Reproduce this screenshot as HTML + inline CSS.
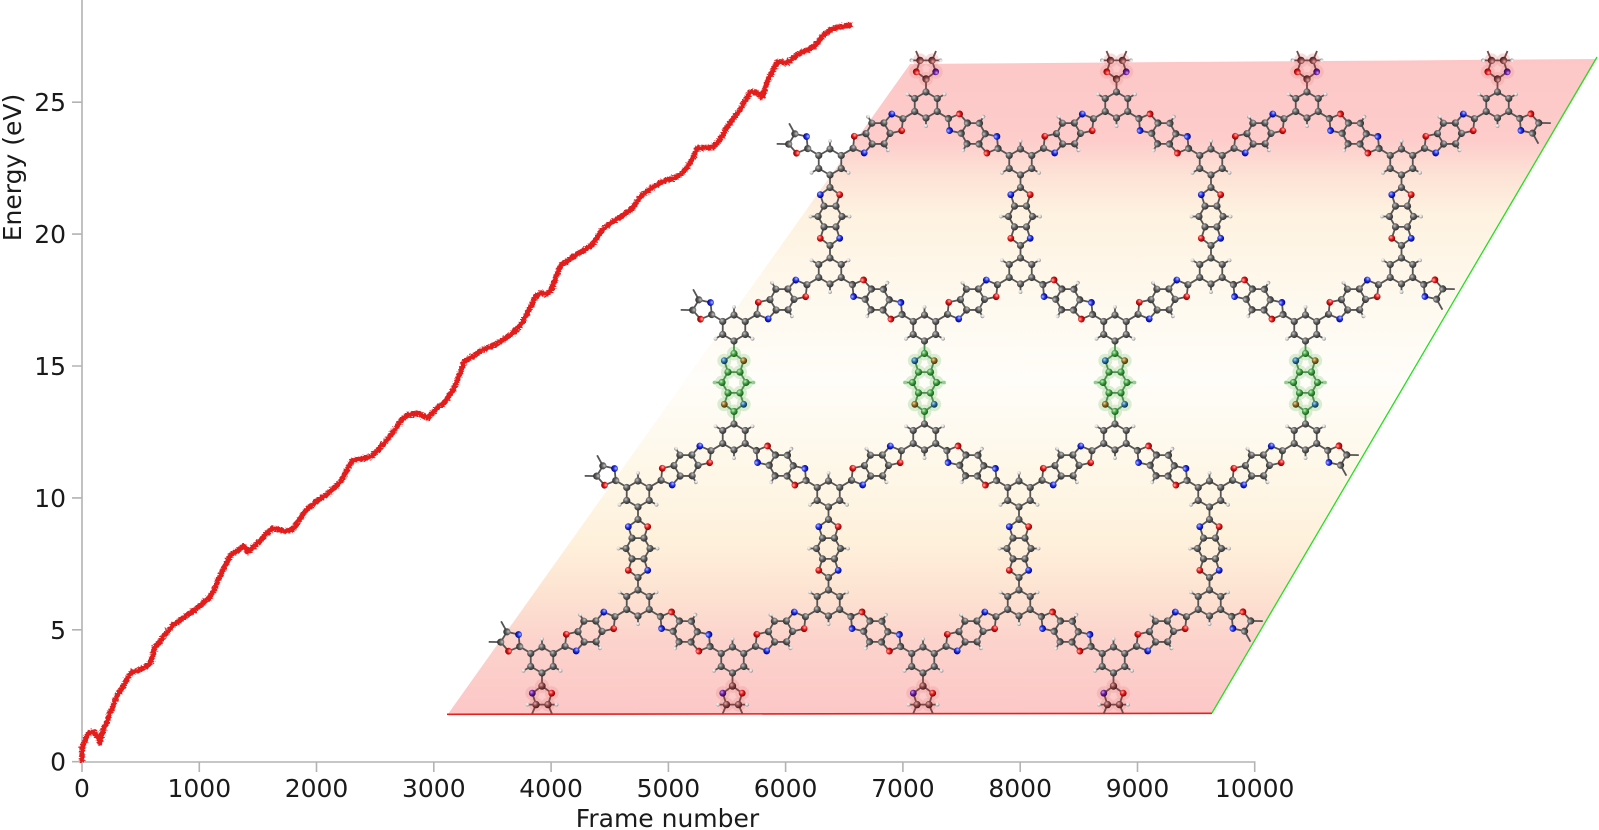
<!DOCTYPE html>
<html><head><meta charset="utf-8"><style>
html,body{margin:0;padding:0;background:#fff;}
svg{display:block;}
.b{stroke:#555;stroke-width:1.8;fill:none;stroke-linejoin:round;}
.bg{stroke:#4f8f4f;stroke-width:1.8;fill:none;}
.br{stroke:#7a4848;stroke-width:1.8;fill:none;}
text{font-family:"DejaVu Sans","Liberation Sans",sans-serif;fill:#1a1a1a;}
</style></head><body>
<svg width="1599" height="830" viewBox="0 0 1599 830" xmlns="http://www.w3.org/2000/svg" xmlns:xlink="http://www.w3.org/1999/xlink">
<defs>
<filter id="jit" filterUnits="userSpaceOnUse" x="60" y="0" width="830" height="790">
<feTurbulence type="fractalNoise" baseFrequency="0.45 0.8" numOctaves="2" seed="7" result="t"/>
<feDisplacementMap in="SourceGraphic" in2="t" scale="5" xChannelSelector="R" yChannelSelector="G"/>
</filter>
<linearGradient id="bgG" gradientUnits="userSpaceOnUse" x1="0" y1="59" x2="0" y2="714">
<stop offset="0" stop-color="#fdc7c7"/>
<stop offset="0.124" stop-color="#fdcccb"/>
<stop offset="0.177" stop-color="#fde2d6"/>
<stop offset="0.238" stop-color="#fef2e0"/>
<stop offset="0.368" stop-color="#fef9ee"/>
<stop offset="0.49" stop-color="#fffdf9"/>
<stop offset="0.612" stop-color="#fef8ea"/>
<stop offset="0.734" stop-color="#fef1dc"/>
<stop offset="0.81" stop-color="#fde4d2"/>
<stop offset="0.887" stop-color="#fcd3cc"/>
<stop offset="1" stop-color="#fcc7c7"/>
</linearGradient>
<radialGradient id="gC" cx="0.38" cy="0.35" r="0.65"><stop offset="0" stop-color="#c4c4c4"/><stop offset="0.5" stop-color="#606060"/><stop offset="1" stop-color="#303030"/></radialGradient>
<radialGradient id="gO" cx="0.38" cy="0.35" r="0.65"><stop offset="0" stop-color="#ffb4b4"/><stop offset="0.5" stop-color="#e21a1a"/><stop offset="1" stop-color="#8a0000"/></radialGradient>
<radialGradient id="gN" cx="0.38" cy="0.35" r="0.65"><stop offset="0" stop-color="#b4bcff"/><stop offset="0.5" stop-color="#2233e0"/><stop offset="1" stop-color="#000088"/></radialGradient>
<radialGradient id="gH" cx="0.38" cy="0.35" r="0.65"><stop offset="0" stop-color="#ffffff"/><stop offset="0.6" stop-color="#d0d0d0"/><stop offset="1" stop-color="#888"/></radialGradient>
<radialGradient id="gG" cx="0.38" cy="0.35" r="0.65"><stop offset="0" stop-color="#c8f0c8"/><stop offset="0.5" stop-color="#3c9e3c"/><stop offset="1" stop-color="#1a5a1a"/></radialGradient>
<radialGradient id="gGN" cx="0.38" cy="0.35" r="0.65"><stop offset="0" stop-color="#b0d8f0"/><stop offset="0.5" stop-color="#2a70a0"/><stop offset="1" stop-color="#0a3050"/></radialGradient>
<radialGradient id="gGO" cx="0.38" cy="0.35" r="0.65"><stop offset="0" stop-color="#f0d8a0"/><stop offset="0.5" stop-color="#8a6a20"/><stop offset="1" stop-color="#4a3008"/></radialGradient>
<radialGradient id="gR" cx="0.38" cy="0.35" r="0.65"><stop offset="0" stop-color="#e0b0b0"/><stop offset="0.5" stop-color="#8a4444"/><stop offset="1" stop-color="#4a1a1a"/></radialGradient>
<radialGradient id="gP" cx="0.38" cy="0.35" r="0.65"><stop offset="0" stop-color="#d0a0f0"/><stop offset="0.5" stop-color="#6a1a9a"/><stop offset="1" stop-color="#300a50"/></radialGradient>

<circle id="C" r="3.6" fill="url(#gC)"/>
<circle id="O" r="3.4" fill="url(#gO)"/>
<circle id="N" r="3.4" fill="url(#gN)"/>
<circle id="H" r="1.9" fill="url(#gH)"/>
<circle id="G" r="3.6" fill="url(#gG)"/>
<circle id="GN" r="3.4" fill="url(#gGN)"/>
<circle id="GO" r="3.4" fill="url(#gGO)"/>
<circle id="GH" r="1.9" fill="#8fd08f"/>
<circle id="R" r="3.7" fill="url(#gR)"/>
<circle id="RN" r="3.4" fill="url(#gP)"/>
<circle id="hR" r="7" fill="#e89a9a" opacity="0.35"/>
<circle id="hG" r="7" fill="#9fd89a" opacity="0.4"/>

<g id="lk">
<path class="b" d="M0,-42V-29M0,-29L-9.7,-21.8L-6,-10.4L6,-10.4L9.7,-21.8ZM-6,-10.4L-12,0L-6,10.4L6,10.4L12,0L6,-10.4M-6,10.4L-9.7,21.8L0,29L9.7,21.8L6,10.4M0,29V42M-12,0H-19M12,0H19"/>
<use href="#C" y="-29"/><use href="#N" x="-9.7" y="-21.8"/><use href="#O" x="9.7" y="-21.8"/>
<use href="#C" x="-6" y="-10.4"/><use href="#C" x="6" y="-10.4"/><use href="#C" x="-12"/><use href="#C" x="12"/>
<use href="#C" x="-6" y="10.4"/><use href="#C" x="6" y="10.4"/>
<use href="#O" x="-9.7" y="21.8"/><use href="#N" x="9.7" y="21.8"/><use href="#C" y="29"/>
<use href="#H" x="-19.5"/><use href="#H" x="19.5"/>
</g>

<g id="lkG">
<use href="#hG" y="-29"/><use href="#hG" x="-9.7" y="-21.8"/><use href="#hG" x="9.7" y="-21.8"/>
<use href="#hG" x="-6" y="-10.4"/><use href="#hG" x="6" y="-10.4"/><use href="#hG" x="-12"/><use href="#hG" x="12"/>
<use href="#hG" x="-6" y="10.4"/><use href="#hG" x="6" y="10.4"/>
<use href="#hG" x="-9.7" y="21.8"/><use href="#hG" x="9.7" y="21.8"/><use href="#hG" y="29"/>
<path class="bg" d="M0,-42V-29M0,-29L-9.7,-21.8L-6,-10.4L6,-10.4L9.7,-21.8ZM-6,-10.4L-12,0L-6,10.4L6,10.4L12,0L6,-10.4M-6,10.4L-9.7,21.8L0,29L9.7,21.8L6,10.4M0,29V42M-12,0H-19M12,0H19"/>
<use href="#G" y="-29"/><use href="#GN" x="-9.7" y="-21.8"/><use href="#GO" x="9.7" y="-21.8"/>
<use href="#G" x="-6" y="-10.4"/><use href="#G" x="6" y="-10.4"/><use href="#G" x="-12"/><use href="#G" x="12"/>
<use href="#G" x="-6" y="10.4"/><use href="#G" x="6" y="10.4"/>
<use href="#GO" x="-9.7" y="21.8"/><use href="#GN" x="9.7" y="21.8"/><use href="#G" y="29"/>
<use href="#GH" x="-19.5"/><use href="#GH" x="19.5"/>
</g>

<g id="nU">
<path class="b" d="M0,-13L11.26,-6.5L11.26,6.5L0,13L-11.26,6.5L-11.26,-6.5ZM11.26,-6.5L18,-10.4M0,13V20M-11.26,-6.5L-18,-10.4"/>
<use href="#C" y="-13"/><use href="#C" x="11.26" y="-6.5"/><use href="#C" x="11.26" y="6.5"/><use href="#C" y="13"/><use href="#C" x="-11.26" y="6.5"/><use href="#C" x="-11.26" y="-6.5"/>
<use href="#H" x="18.5" y="-10.7"/><use href="#H" y="21"/><use href="#H" x="-18.5" y="-10.7"/>
</g>
<g id="nD">
<path class="b" d="M0,-13L11.26,-6.5L11.26,6.5L0,13L-11.26,6.5L-11.26,-6.5ZM11.26,6.5L18,10.4M0,-13V-20M-11.26,6.5L-18,10.4"/>
<use href="#C" y="-13"/><use href="#C" x="11.26" y="-6.5"/><use href="#C" x="11.26" y="6.5"/><use href="#C" y="13"/><use href="#C" x="-11.26" y="6.5"/><use href="#C" x="-11.26" y="-6.5"/>
<use href="#H" x="18.5" y="10.7"/><use href="#H" y="-21"/><use href="#H" x="-18.5" y="10.7"/>
</g>

<g id="hk">
<path class="b" d="M0,13V26M0,26L-9.7,33.2L-6,44.6L6,44.6L9.7,33.2ZM-6,44.6L-12,55M6,44.6L12,55"/>
<use href="#C" y="26"/><use href="#N" x="-9.7" y="33.2"/><use href="#O" x="9.7" y="33.2"/><use href="#C" x="-6" y="44.6"/><use href="#C" x="6" y="44.6"/>
</g>

<g id="hkR">
<use href="#hR" y="26"/><use href="#hR" x="-9.7" y="33.2"/><use href="#hR" x="9.7" y="33.2"/><use href="#hR" x="-6" y="44.6"/><use href="#hR" x="6" y="44.6"/>
<path class="br" d="M0,13V26M0,26L-9.7,33.2L-6,44.6L6,44.6L9.7,33.2ZM-6,44.6L-10,54M6,44.6L10,54M-6,44.6L-14,44.6M6,44.6L14,44.6"/>
<use href="#R" y="26"/><use href="#RN" x="-9.7" y="33.2"/><use href="#O" x="9.7" y="33.2"/><use href="#R" x="-6" y="44.6"/><use href="#R" x="6" y="44.6"/>
<use href="#H" x="-14.5" y="44.6"/><use href="#H" x="14.5" y="44.6"/>
</g>
</defs>

<!-- parallelogram background -->
<polygon points="448,714 910,64 1597,59 1212,713" fill="url(#bgG)"/>
<line x1="447" y1="714.3" x2="1212" y2="713.3" stroke="#e82020" stroke-width="1.6"/>
<line x1="1212" y1="713" x2="1597" y2="57" stroke="#22e022" stroke-width="1.3"/>

<!-- diagonal linkers -->
<g>
<use href="#lk" transform="translate(878,133.5) rotate(59.3)"/>
<use href="#lk" transform="translate(1068.5,133.5) rotate(59.3)"/>
<use href="#lk" transform="translate(1259,133.5) rotate(59.3)"/>
<use href="#lk" transform="translate(1449.5,133.5) rotate(59.3)"/>
<use href="#lk" transform="translate(973.25,133.5) rotate(-58.9)"/>
<use href="#lk" transform="translate(1163.75,133.5) rotate(-58.9)"/>
<use href="#lk" transform="translate(1354.25,133.5) rotate(-58.9)"/>

<use href="#lk" transform="translate(782,299.5) rotate(59.3)"/>
<use href="#lk" transform="translate(972.5,299.5) rotate(59.3)"/>
<use href="#lk" transform="translate(1163,299.5) rotate(59.3)"/>
<use href="#lk" transform="translate(1353.5,299.5) rotate(59.3)"/>
<use href="#lk" transform="translate(877.25,299.5) rotate(-58.9)"/>
<use href="#lk" transform="translate(1067.75,299.5) rotate(-58.9)"/>
<use href="#lk" transform="translate(1258.25,299.5) rotate(-58.9)"/>

<use href="#lk" transform="translate(686,465.5) rotate(59.3)"/>
<use href="#lk" transform="translate(876.5,465.5) rotate(59.3)"/>
<use href="#lk" transform="translate(1067,465.5) rotate(59.3)"/>
<use href="#lk" transform="translate(1257.5,465.5) rotate(59.3)"/>
<use href="#lk" transform="translate(781.25,465.5) rotate(-58.9)"/>
<use href="#lk" transform="translate(971.75,465.5) rotate(-58.9)"/>
<use href="#lk" transform="translate(1162.25,465.5) rotate(-58.9)"/>

<use href="#lk" transform="translate(590,631.5) rotate(59.3)"/>
<use href="#lk" transform="translate(780.5,631.5) rotate(59.3)"/>
<use href="#lk" transform="translate(971,631.5) rotate(59.3)"/>
<use href="#lk" transform="translate(1161.5,631.5) rotate(59.3)"/>
<use href="#lk" transform="translate(685.25,631.5) rotate(-58.9)"/>
<use href="#lk" transform="translate(875.75,631.5) rotate(-58.9)"/>
<use href="#lk" transform="translate(1066.25,631.5) rotate(-58.9)"/>
</g>

<!-- vertical linkers -->
<g>
<use href="#lk" transform="translate(830,216.5)"/>
<use href="#lk" transform="translate(1020.5,216.5)"/>
<use href="#lk" transform="translate(1211,216.5)"/>
<use href="#lk" transform="translate(1401.5,216.5)"/>
<use href="#lkG" transform="translate(734,382.5)"/>
<use href="#lkG" transform="translate(924.5,382.5)"/>
<use href="#lkG" transform="translate(1115,382.5)"/>
<use href="#lkG" transform="translate(1305.5,382.5)"/>
<use href="#lk" transform="translate(638,548.5)"/>
<use href="#lk" transform="translate(828.5,548.5)"/>
<use href="#lk" transform="translate(1019,548.5)"/>
<use href="#lk" transform="translate(1209.5,548.5)"/>
</g>

<!-- half linkers -->
<g>
<use href="#hk" transform="translate(1497.5,105) rotate(-58.9)"/>
<use href="#hk" transform="translate(1401.5,271) rotate(-58.9)"/>
<use href="#hk" transform="translate(1305.5,437) rotate(-58.9)"/>
<use href="#hk" transform="translate(1209.5,603) rotate(-58.9)"/>
<use href="#hk" transform="translate(830,162) rotate(121.1)"/>
<use href="#hk" transform="translate(734,328) rotate(121.1)"/>
<use href="#hk" transform="translate(638,494) rotate(121.1)"/>
<use href="#hk" transform="translate(542,660) rotate(121.1)"/>
<use href="#hkR" transform="translate(926,105) rotate(180)"/>
<use href="#hkR" transform="translate(1116.5,105) rotate(180)"/>
<use href="#hkR" transform="translate(1307,105) rotate(180)"/>
<use href="#hkR" transform="translate(1497.5,105) rotate(180)"/>
<use href="#hkR" transform="translate(542,660)"/>
<use href="#hkR" transform="translate(732.5,660)"/>
<use href="#hkR" transform="translate(923,660)"/>
<use href="#hkR" transform="translate(1113.5,660)"/>
</g>

<!-- nodes -->
<g>
<use href="#nU" x="926" y="105"/><use href="#nU" x="1116.5" y="105"/><use href="#nU" x="1307" y="105"/><use href="#nU" x="1497.5" y="105"/>
<use href="#nD" x="830" y="162"/><use href="#nD" x="1020.5" y="162"/><use href="#nD" x="1211" y="162"/><use href="#nD" x="1401.5" y="162"/>
<use href="#nU" x="830" y="271"/><use href="#nU" x="1020.5" y="271"/><use href="#nU" x="1211" y="271"/><use href="#nU" x="1401.5" y="271"/>
<use href="#nD" x="734" y="328"/><use href="#nD" x="924.5" y="328"/><use href="#nD" x="1115" y="328"/><use href="#nD" x="1305.5" y="328"/>
<use href="#nU" x="734" y="437"/><use href="#nU" x="924.5" y="437"/><use href="#nU" x="1115" y="437"/><use href="#nU" x="1305.5" y="437"/>
<use href="#nD" x="638" y="494"/><use href="#nD" x="828.5" y="494"/><use href="#nD" x="1019" y="494"/><use href="#nD" x="1209.5" y="494"/>
<use href="#nU" x="638" y="603"/><use href="#nU" x="828.5" y="603"/><use href="#nU" x="1019" y="603"/><use href="#nU" x="1209.5" y="603"/>
<use href="#nD" x="542" y="660"/><use href="#nD" x="732.5" y="660"/><use href="#nD" x="923" y="660"/><use href="#nD" x="1113.5" y="660"/>
</g>

<!-- axes -->
<g stroke="#b3b3b3" stroke-width="1.6" fill="none">
<line x1="82" y1="0" x2="82" y2="762.5"/>
<line x1="81.2" y1="762" x2="1255.5" y2="762"/>
<path d="M72,761.7H82M72,629.8H82M72,497.9H82M72,366H82M72,234.1H82M72,102.2H82"/>
<path d="M82,762V772M199.3,762V772M316.5,762V772M433.8,762V772M551.1,762V772M668.4,762V772M785.6,762V772M902.9,762V772M1020.2,762V772M1137.5,762V772M1254.7,762V772"/>
</g>

<g font-size="25" text-anchor="end">
<text x="66" y="770.7">0</text>
<text x="66" y="638.8">5</text>
<text x="66" y="506.9">10</text>
<text x="66" y="375">15</text>
<text x="66" y="243.1">20</text>
<text x="66" y="111.2">25</text>
</g>
<g font-size="25" text-anchor="middle">
<text x="82" y="797">0</text>
<text x="199.3" y="797">1000</text>
<text x="316.5" y="797">2000</text>
<text x="433.8" y="797">3000</text>
<text x="551.1" y="797">4000</text>
<text x="668.4" y="797">5000</text>
<text x="785.6" y="797">6000</text>
<text x="902.9" y="797">7000</text>
<text x="1020.2" y="797">8000</text>
<text x="1137.5" y="797">9000</text>
<text x="1254.7" y="797">10000</text>
<text x="667.5" y="827">Frame number</text>
<text transform="translate(21,167.5) rotate(-90)">Energy (eV)</text>
</g>

<!-- energy curve -->
<g filter="url(#jit)">
<polyline fill="none" stroke="#e31c1c" stroke-width="5.5" stroke-linejoin="round" stroke-linecap="butt" points="
82,762 82,748 86,738 89,733 94,732 98,737 100,743 103,730 107,722 110,713 114,704 117,695 121,690 125,683 129,676 132,672 137,671 143,668 147,666 150,663 153,655 155,647 159,643 163,637 168,631 173,625 180,620 187,615 192,612 197,608 203,603 210,597 214,590 218,580 224,568 230,556 235,552 240,549 244,546 248,552 253,547 260,541 266,534 273,528 279,530 285,531 291,530 296,525 300,519 306,510 312,505 318,500 326,495 333,489 338,484 342,479 347,470 352,461 358,459 365,458 372,456 378,450 383,444 388,439 393,432 398,425 403,418 408,415 413,414 418,413 423,416 428,418 433,412 438,407 444,403 449,396 454,388 459,376 464,362 470,358 475,355 479,352 485,349 492,346 500,342 507,337 514,332 520,326 526,316 531,306 536,296 541,293 546,294 551,291 555,280 558,272 561,265 566,262 571,258 576,255 581,252 587,248 592,245 597,238 602,230 607,226 612,222 617,219 622,216 627,212 632,209 636,203 640,197 646,192 652,188 660,183 667,180 674,178 680,175 685,170 690,163 694,156 697,148 702,148 708,148 713,147 717,143 720,140 724,133 727,127 731,122 735,116 740,110 745,101 750,92 754,92 757,93 760,96 762,97 765,89 767,82 772,72 777,62 782,62 787,63 792,59 797,55 803,52 808,50 813,47 818,42 822,37 826,33 830,30 835,28 840,27 845,26 852,25"/>
</g>
</svg>
</body></html>
